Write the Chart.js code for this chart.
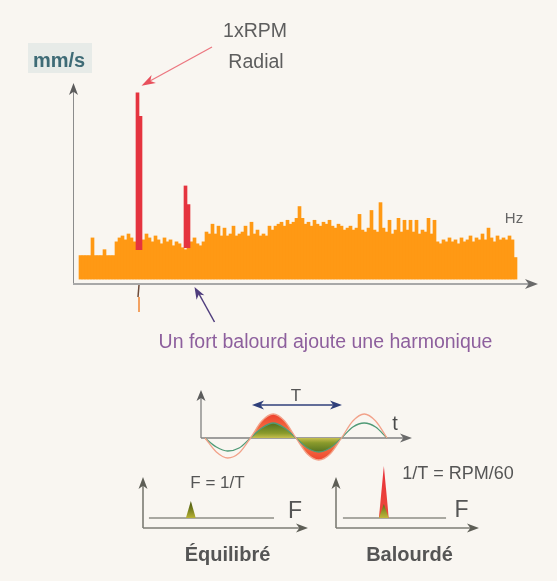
<!DOCTYPE html>
<html><head><meta charset="utf-8">
<script src="https://cdn.jsdelivr.net/npm/chart.js@4/dist/chart.umd.min.js"></script>
<style>
html,body{margin:0;padding:0;background:#f9f6f1;}
#wrap{position:relative;width:557px;height:581px;overflow:hidden;}
canvas{position:absolute;left:0;top:0;}
</style></head><body>
<div id="wrap">
<canvas id="main" width="557" height="581"></canvas>
<canvas id="wave" width="557" height="581"></canvas>
<canvas id="eq" width="557" height="581"></canvas>
<canvas id="bal" width="557" height="581"></canvas>
</div>
<script>
// ---------- DATA ----------
// Spectrum (mm/s, arbitrary scale), one value per frequency bin
const spectrumLevel = [
  12,12,12,12,21,12,12,12,15,12,12,12,
  19,21,22,20,23,21,19,18,17,20,23,21,19,22,20,18,21,19,20,17,19,18,16,15,16,19,21,18,17,19,
  24,23,28,23,27,22,26,22,23,27,22,23,24,27,22,29,23,25,22,23,22,27,
  25,27,28,29,27,30,28,29,31,37,31,28,29,27,30,28,27,29,28,30,27,26,28,27,25,26,27,
  25,26,33,25,24,26,35,25,24,39,26,24,30,23,25,31,24,30,25,30,24,30,23,25,24,31,23,30,
  19,18,20,19,21,19,20,18,21,19,20,22,19,21,20,23,20,26,21,19,22,20,21,20,22,20,
  11
];
const spectrumBins = spectrumLevel.map((v, i) => i);
// 1xRPM peak and its harmonic (floating bars: low / high)
const peakBins = [19, 20, 35, 36];
const peakLow  = [15, 15, 16, 16];
const peakHigh = [95, 83, 47.5, 38];

// Time signal (eighths of a period)
const waveT      = [0,1,2,3,4,5,6,7,8,9,10,11,12,13,14,15,16];
const waveOrange = [0,-14,-20,-15,0,17,24,17,0,-16,-22,-16,0,17,24,17,0];
const waveGreen  = [0,-9,-13,-10,0,10,15,10,0,-10,-14,-10,0,11,15,11,0];
const fillFrom = 4, fillTo = 12;

// Small spectra
const eqFloorF  = [0.36, 7.94];
const eqPeakF   = [2.6, 2.9, 3.2];
const eqPeakAmp = [0, 17, 0];
const balFloorF  = [0.42, 6.67];
const balPeakF   = [2.6, 2.9, 3.2];
const balPeakAmp = [0, 52, 0];
const balCoreAmp = [0, 14, 0];

// ---------- HELPERS ----------
const FONT = '"Liberation Sans", Arial, Helvetica, sans-serif';
const xy = (xs, ys) => xs.map((x, i) => ({x: x, y: ys[i]}));
function line(c,x1,y1,x2,y2){c.beginPath();c.moveTo(x1,y1);c.lineTo(x2,y2);c.stroke();}
function arrowHead(c,x,y,ang,len,wid,col){
  c.save(); c.translate(x,y); c.rotate(ang);
  c.beginPath(); c.moveTo(0,0); c.lineTo(-len,-wid/2); c.lineTo(-len*0.72,0); c.lineTo(-len,wid/2); c.closePath();
  c.fillStyle=col; c.fill(); c.restore();
}
function text(c,s,x,y,font,col,align){
  c.font=font; c.fillStyle=col; c.textAlign=align||'center'; c.textBaseline='alphabetic'; c.fillText(s,x,y);
}
function baseOpts(pad, xmin, xmax, ymin, ymax){
  return {responsive:false, animation:false, events:[], devicePixelRatio:1,
    layout:{padding:pad},
    plugins:{legend:{display:false}, tooltip:{enabled:false}},
    scales:{x:{type:'linear',min:xmin,max:xmax,display:false,offset:false,grid:{offset:false}},
            y:{type:'linear',min:ymin,max:ymax,display:false}}};
}
function vGrad(chart, v1, v2, stops){
  const ca = chart.chartArea; if(!ca) return 'rgba(0,0,0,0)';
  const y = chart.scales.y;
  const g = chart.ctx.createLinearGradient(0, y.getPixelForValue(v1), 0, y.getPixelForValue(v2));
  stops.forEach(s => g.addColorStop(s[0], s[1]));
  return g;
}

// ---------- MAIN SPECTRUM ----------
const mainDecor = {
  id:'mainDecor',
  afterDraw(chart){
    const c = chart.ctx, X = chart.scales.x, Y = chart.scales.y, ca = chart.chartArea;
    c.save();
    // y axis
    c.strokeStyle='#8c8c8c'; c.lineWidth=1;
    line(c, ca.left-0.5, ca.bottom, ca.left-0.5, ca.top+8);
    arrowHead(c, ca.left-0.5, ca.top, -Math.PI/2, 12, 9, '#5c5c5c');
    // x axis
    c.strokeStyle='#a8a8a8'; c.lineWidth=2;
    line(c, ca.left-1, ca.bottom, ca.right-9, ca.bottom);
    arrowHead(c, ca.right, ca.bottom, 0, 13, 10, '#6a6a6a');
    // tick below the 1xRPM peak
    const px = X.getPixelForValue(peakBins[0]+0.5);
    c.lineWidth=1.5; c.strokeStyle='#6e4c3a';
    line(c, px, ca.bottom+1, px-1, ca.bottom+13);
    c.lineWidth=2; c.strokeStyle='#f3a262';
    line(c, px, ca.bottom+13, px, ca.bottom+28);
    // purple arrow to harmonic
    const hx = X.getPixelForValue(peakBins[3]+2);
    c.strokeStyle='#4f3d7d'; c.lineWidth=1.5;
    line(c, hx+20, ca.bottom+38, hx+4, ca.bottom+9);
    arrowHead(c, hx, ca.bottom+3, Math.atan2(-35, -20), 12, 9, '#4f3d7d');
    // red arrow to 1xRPM peak
    const tx = X.getPixelForValue(peakBins[1])+1, ty = Y.getPixelForValue(peakHigh[0])-7;
    c.strokeStyle='#ec7780'; c.lineWidth=1.3;
    line(c, 212, 47, tx+8, ty-4.5);
    arrowHead(c, tx, ty, Math.atan2(ty-47, tx-212), 14, 9, '#e8505c');
    // texts
    c.fillStyle='#e7ebe8'; c.fillRect(28,43,64,30);
    text(c,'mm/s',59,67,'bold 20px '+FONT,'#3e6b76');
    text(c,'1xRPM',255,37,'19.5px '+FONT,'#5e5e5e');
    text(c,'Radial',256,68,'19.5px '+FONT,'#5e5e5e');
    text(c,'Hz',514,223,'15px '+FONT,'#666666');
    text(c,'Un fort balourd ajoute une harmonique',325.5,348,'19.5px '+FONT,'#8d5f9d');
    c.restore();
  }
};
const mainOpts = baseOpts({left:74,right:19,top:83,bottom:297}, -2.1667, 152.5, -2.5, 100);
new Chart(document.getElementById('main'), {
  type:'bar',
  data:{datasets:[
    {label:'1xRPM Radial', data: peakBins.map((b,k)=>({x:b, y:[peakLow[k], peakHigh[k]]})),
     backgroundColor:'#e5343f', borderWidth:0, grouped:false, order:0, categoryPercentage:1, barPercentage:1},
    {label:'Spectre', data: xy(spectrumBins, spectrumLevel),
     backgroundColor:'#ff9914', borderWidth:0, grouped:false, order:1, categoryPercentage:1, barPercentage:1}
  ]},
  options: mainOpts,
  plugins:[mainDecor]
});

// ---------- TIME SIGNAL ----------
const waveDecor = {
  id:'waveDecor',
  beforeDatasetsDraw(chart){
    const c = chart.ctx, X = chart.scales.x, Y = chart.scales.y, ca = chart.chartArea;
    const y0 = Y.getPixelForValue(0);
    c.save();
    c.strokeStyle='#808080'; c.lineWidth=1.3;
    line(c, ca.left, y0, ca.left, ca.top+8);
    arrowHead(c, ca.left, ca.top, -Math.PI/2, 11, 9, '#5c5c5c');
    line(c, ca.left, y0, ca.right-8, y0);
    arrowHead(c, ca.right, y0, 0, 12, 9, '#6a6a6a');
    c.restore();
  },
  afterDraw(chart){
    const c = chart.ctx, X = chart.scales.x, Y = chart.scales.y;
    const x1 = X.getPixelForValue(waveT[fillFrom]), x2 = X.getPixelForValue(waveT[fillTo]);
    const ya = Y.getPixelForValue(33);
    c.save();
    c.strokeStyle='#2f3f7a'; c.lineWidth=1.6;
    line(c, x1+8, ya, x2-8, ya);
    arrowHead(c, x1+1.5, ya, Math.PI, 12, 9, '#2f3f7a');
    arrowHead(c, x2+0.5, ya, 0, 12, 9, '#2f3f7a');
    text(c,'T',(x1+x2)/2,401,'17px '+FONT,'#555555');
    text(c,'t',395,430,'20px '+FONT,'#4a4a4a');
    c.restore();
  }
};
const redGrad = ctx => vGrad(ctx.chart, 26, -26, [[0,'#ee3a2c'],[0.3,'#f2683e'],[0.5,'#f7b47c'],[0.7,'#f2683e'],[1,'#ee3a2c']]);
const greenGrad = ctx => vGrad(ctx.chart, 16, -16, [[0,'#4b6c1e'],[0.35,'#8a9a2c'],[0.5,'#c7bf4e'],[0.65,'#8a9a2c'],[1,'#4b6c1e']]);
new Chart(document.getElementById('wave'), {
  type:'line',
  data:{datasets:[
    {label:'balourd', data: xy(waveT, waveOrange), borderColor:'#f2a28a', borderWidth:1.3, pointRadius:0,
     fill:false, cubicInterpolationMode:'monotone', order:0},
    {label:'équilibré', data: xy(waveT, waveGreen), borderColor:'#4f9a76', borderWidth:1.3, pointRadius:0,
     fill:false, cubicInterpolationMode:'monotone', order:1},
    {label:'zone verte', data: xy(waveT.slice(fillFrom, fillTo+1), waveGreen.slice(fillFrom, fillTo+1)),
     borderColor:'rgba(0,0,0,0)', borderWidth:0, pointRadius:0, fill:'origin', backgroundColor: greenGrad,
     cubicInterpolationMode:'monotone', order:2},
    {label:'zone rouge', data: xy(waveT.slice(fillFrom, fillTo+1), waveOrange.slice(fillFrom, fillTo+1)),
     borderColor:'rgba(0,0,0,0)', borderWidth:0, pointRadius:0, fill:'origin', backgroundColor: redGrad,
     cubicInterpolationMode:'monotone', order:3}
  ]},
  options: baseOpts({left:201,right:145,top:390,bottom:113}, -0.35, 18.2, -30, 48),
  plugins:[waveDecor]
});

// ---------- SMALL SPECTRA ----------
function miniDecor(id, labels){
  return {
    id:id,
    beforeDatasetsDraw(chart){
      const c = chart.ctx, Y = chart.scales.y, ca = chart.chartArea;
      c.save();
      c.strokeStyle='#7c7c74'; c.lineWidth=1.6;
      const yTop = Y.getPixelForValue(41);
      line(c, ca.left, ca.bottom, ca.left, yTop+8);
      arrowHead(c, ca.left, yTop, -Math.PI/2, 12, 9, '#5e5e56');
      line(c, ca.left, ca.bottom, ca.right-8, ca.bottom);
      arrowHead(c, ca.right, ca.bottom, 0, 12, 9, '#5e5e56');
      c.restore();
    },
    afterDraw(chart){
      const c = chart.ctx; c.save();
      labels.forEach(l => text(c, l[0], l[1], l[2], l[3], l[4] || '#555555'));
      c.restore();
    }
  };
}
const oliveGrad = ctx => vGrad(ctx.chart, 17, 0, [[0,'#46540c'],[0.55,'#7d8420'],[1,'#b9b236']]);
const oliveGrad2 = ctx => vGrad(ctx.chart, 14, 0, [[0,'#5a6a14'],[0.5,'#8f9428'],[1,'#c2b63c']]);
const redSpike = ctx => vGrad(ctx.chart, 52, 0, [[0,'#e8303a'],[1,'#ec4a3a']]);

new Chart(document.getElementById('eq'), {
  type:'line',
  data:{datasets:[
    {label:'pic', data: xy(eqPeakF, eqPeakAmp), borderWidth:0, borderColor:'rgba(0,0,0,0)', pointRadius:0,
     fill:'origin', backgroundColor: oliveGrad, tension:0, order:0},
    {label:'fond', data: xy(eqFloorF, [0,0]), borderColor:'#8e8e86', borderWidth:1.6, pointRadius:0, fill:false, order:1}
  ]},
  options: baseOpts({left:143,right:249,top:460,bottom:53}, 0, 10, -10, 58),
  plugins:[miniDecor('eqDecor', [
    ['F = 1/T', 217.5, 488, '17px '+FONT],
    ['F', 295, 518, '23px '+FONT],
    ['Équilibré', 227.5, 561, 'bold 20px '+FONT]
  ])]
});

new Chart(document.getElementById('bal'), {
  type:'line',
  data:{datasets:[
    {label:'coeur', data: xy(balPeakF, balCoreAmp), borderWidth:0, borderColor:'rgba(0,0,0,0)', pointRadius:0,
     fill:'origin', backgroundColor: oliveGrad2, tension:0, order:0},
    {label:'pic', data: xy(balPeakF, balPeakAmp), borderWidth:0, borderColor:'rgba(0,0,0,0)', pointRadius:0,
     fill:'origin', backgroundColor: redSpike, tension:0, order:1},
    {label:'fond', data: xy(balFloorF, [0,0]), borderColor:'#8e8e86', borderWidth:1.6, pointRadius:0, fill:false, order:2}
  ]},
  options: baseOpts({left:336,right:78,top:460,bottom:53}, 0, 8.667, -10, 58),
  plugins:[miniDecor('balDecor', [
    ['1/T = RPM/60', 458, 479, '18px '+FONT],
    ['F', 461.5, 517, '23px '+FONT],
    ['Balourdé', 409.5, 561, 'bold 20px '+FONT]
  ])]
});
</script>
</body></html>
